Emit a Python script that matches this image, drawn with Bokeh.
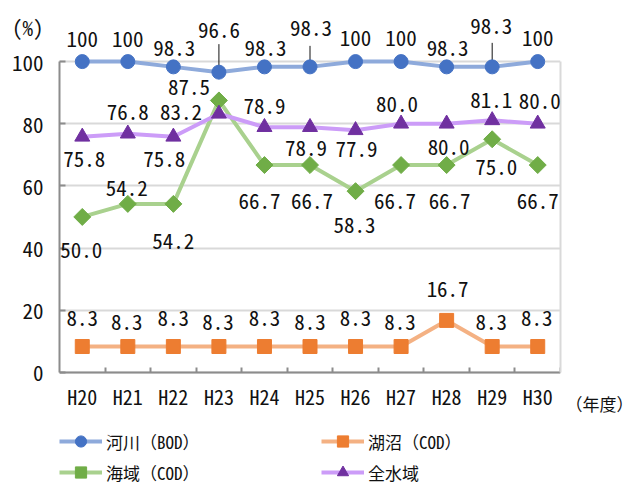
import math
from bokeh.plotting import figure
from bokeh.models import (ColumnDataSource, LabelSet, Legend, LegendItem, LinearAxis,
                          FixedTicker, Range1d, FactorRange)
from bokeh.core.properties import value
from bokeh.embed import file_html
from bokeh.resources import INLINE

# ---- data ----
years = ["H20", "H21", "H22", "H23", "H24", "H25", "H26", "H27", "H28", "H29", "H30"]
river = [100, 100, 98.3, 96.6, 98.3, 98.3, 100, 100, 98.3, 98.3, 100]
lake = [8.3, 8.3, 8.3, 8.3, 8.3, 8.3, 8.3, 8.3, 16.7, 8.3, 8.3]
sea = [50.0, 54.2, 54.2, 87.5, 66.7, 66.7, 58.3, 66.7, 66.7, 75.0, 66.7]
all_water = [75.8, 76.8, 75.8, 83.2, 78.9, 78.9, 77.9, 80.0, 80.0, 81.1, 80.0]
y_ticks = [0, 20, 40, 60, 80, 100]
names = ["河川（BOD）", "湖沼（COD）", "海域（COD）", "全水域"]
y_unit = "(%)"
x_unit = "（年度）"

# ---- label placement (screen px; dy positive = down) ----
river_dx = [0, 0, 1, 0, 1, 1, 0, 0, 1, -1, 0]
river_dy = [-23, -23, -19, -42, -19, -39, -24, -24, -19, -41, -24]
lake_dx = [0, -1, 0, -1, 0, 0, 0, -1, 1, -1, -1]
lake_dy = [-29, -25, -29, -25, -29, -25, -29, -25, -31, -25, -29]
sea_dx = [-1, -1, 0, -30, -5, 2, -1, -6, 3, 4, 0]
sea_dy = [33, -16, 37, -13, 36, 36, 34, 36, 36, 28, 36]
all_dx = [2, 0, -9, -38, 0, -4, 1, -4, 2, -1, 2]
all_dy = [22, -22, 22, -2, -21, 21, 19, -20, 23, -20, -23]
leader_idx = [3, 5, 9]
leader_len = [28, 21, 24]
Y_UNIT_POS = 111   # where "(%)" sits, in axis units
X_UNIT_POS = -10   # where "（年度）" sits, in axis units
CAT_LABEL_DY = 24.5

MONO = "Noto Sans Mono CJK JP, Noto Sans CJK JP, monospace"
AXIS_COLOR = "#8c8c8c"
GRID_COLOR = "#d9d9d9"
TXT = "#111111"

p = figure(x_range=FactorRange(*years, range_padding=0), y_range=Range1d(-37.4, 115.8),
           width=636, height=488, output_backend="svg", toolbar_location=None,
           x_axis_location=None, y_axis_location=None,
           min_border_left=59, min_border_right=63, min_border_top=12, min_border_bottom=0)
p.outline_line_color = None
p.background_fill_color = "white"
p.border_fill_color = "white"
p.xgrid.visible = False
p.ygrid.ticker = FixedTicker(ticks=y_ticks)
p.ygrid.grid_line_color = GRID_COLOR
p.ygrid.grid_line_width = 2

# left axis line + inward ticks
yline = LinearAxis(ticker=FixedTicker(ticks=y_ticks), bounds=(0, 100),
                   axis_line_color=AXIS_COLOR, axis_line_width=2,
                   major_tick_line_color=AXIS_COLOR, major_tick_line_width=2,
                   major_tick_in=6, major_tick_out=0, minor_tick_line_color=None,
                   major_label_overrides={t: "" for t in y_ticks},
                   major_label_text_font_size="1px", major_label_standoff=0)
# left tick labels (plus the unit label)
ylab = LinearAxis(ticker=FixedTicker(ticks=y_ticks + [Y_UNIT_POS]),
                  axis_line_color=None, major_tick_line_color=None, minor_tick_line_color=None,
                  major_tick_in=0, major_tick_out=0,
                  major_label_overrides={Y_UNIT_POS: y_unit},
                  major_label_standoff=16, major_label_text_font=MONO,
                  major_label_text_font_size="21px", major_label_text_color=TXT)
p.add_layout(yline, "left")
p.add_layout(ylab, "left")

# right border + x unit label
rax = LinearAxis(ticker=FixedTicker(ticks=[]), bounds=(0, 100),
                 axis_line_color=GRID_COLOR, axis_line_width=2,
                 major_tick_line_color=None, minor_tick_line_color=None,
                 major_label_text_font_size="1px", major_label_standoff=0)
unit_ax = LinearAxis(ticker=FixedTicker(ticks=[X_UNIT_POS]),
                     axis_line_color=None, major_tick_line_color=None, minor_tick_line_color=None,
                     major_tick_in=0, major_tick_out=0,
                     major_label_overrides={X_UNIT_POS: x_unit},
                     major_label_standoff=5, major_label_text_font=MONO,
                     major_label_text_font_size="17px", major_label_text_color=TXT)
p.add_layout(rax, "right")
p.add_layout(unit_ax, "right")

# bottom axis line at y=0 with ticks at category boundaries (synthetic coordinates)
bticks = list(range(1, len(years) + 1))
tick_axis = LinearAxis(ticker=FixedTicker(ticks=bticks), fixed_location=y_ticks[0],
                       axis_line_color=AXIS_COLOR, axis_line_width=2,
                       major_tick_line_color=AXIS_COLOR, major_tick_line_width=2,
                       major_tick_in=5, major_tick_out=0, minor_tick_line_color=None,
                       major_label_overrides={t: "" for t in bticks},
                       major_label_text_font_size="1px", major_label_standoff=0)
p.add_layout(tick_axis, "below")

# category labels under the axis line
cat_src = ColumnDataSource(dict(x=years, y=[y_ticks[0]] * len(years), t=years))
p.add_layout(LabelSet(x="x", y="y", text="t", y_offset=-CAT_LABEL_DY, source=cat_src,
                      text_align="center", text_baseline="middle",
                      text_font=value(MONO), text_font_size="20px", text_color=TXT))

# leader lines
p.ray(x=[years[i] for i in leader_idx], y=[river[i] for i in leader_idx],
      length=leader_len, angle=math.pi / 2, length_units="screen",
      line_color=TXT, line_width=1)

series = [
    (river, "#8eaadb", "#4472c4", "circle", 14, 0.0),
    (lake, "#f4b183", "#ed7d31", "square", 14, 0.0),
    (sea, "#a9d18e", "#70ad47", "square", 12, math.pi / 4),
    (all_water, "#cc9cf8", "#7030a0", "triangle", 15, 0.0),
]
items = []
for (vals, lc, mc, mk, sz, ang), name in zip(series, names):
    lr = p.line(x=years, y=vals, line_color=lc, line_width=4)
    sr = p.scatter(x=years, y=vals, marker=mk, size=sz, angle=ang,
                   fill_color=mc, line_color=mc)
    items.append(LegendItem(label=name, renderers=[lr, sr]))


def fmt(v):
    return "100" if v == 100 else f"{v:.1f}"


for vals, dx, dy in [(river, river_dx, river_dy), (lake, lake_dx, lake_dy),
                     (sea, sea_dx, sea_dy), (all_water, all_dx, all_dy)]:
    src = ColumnDataSource(dict(x=years, y=vals, t=[fmt(v) for v in vals],
                                dx=dx, dy=[-d for d in dy]))
    p.add_layout(LabelSet(x="x", y="y", text="t", x_offset="dx", y_offset="dy", source=src,
                          text_align="center", text_baseline="middle",
                          text_font=value(MONO), text_font_size="21px",
                          text_color=TXT))

legend = Legend(items=items, location=(0, 2), orientation="horizontal", ncols=2,
                glyph_width=43, glyph_height=28, label_standoff=4, label_width=212,
                label_height=28, spacing=3, padding=0, margin=0,
                border_line_color=None, background_fill_alpha=0,
                label_text_font=MONO, label_text_font_size="17px",
                label_text_color=TXT, label_text_baseline="middle")
p.add_layout(legend)

open("out.html", "w").write(file_html(p, INLINE))
